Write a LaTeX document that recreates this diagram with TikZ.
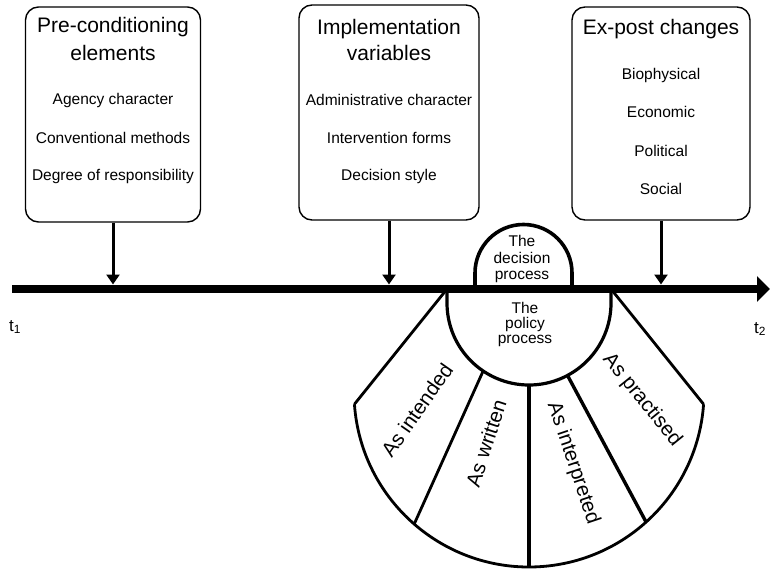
\documentclass[tikz,border=0pt]{standalone}
\usepackage{fontspec}
\setmainfont{Liberation Sans}
\usetikzlibrary{arrows.meta,calc}
\begin{document}
\begin{tikzpicture}[x=1pt,y=1pt,
  box/.style={draw, line width=1.4pt, rounded corners=13pt, inner sep=0pt},
  title/.style={font=\fontsize{21}{21}\selectfont, inner sep=0pt, anchor=base},
  item/.style={font=\fontsize{15.5}{16}\selectfont, inner sep=0pt, anchor=base},
  stage/.style={font=\fontsize{20.5}{21}\selectfont, inner sep=0pt},
  feed/.style={line width=3pt, -{Triangle[length=10pt,width=13pt]}},
  rim/.style={line width=2.8pt},
]
\useasboundingbox (0,0) rectangle (770,571);

% reference points
\coordinate (t1) at (12,282);
\coordinate (t2) at (770,282);
\coordinate (axtop) at (0,286.5);
\coordinate (pc) at (529,268);   % centre of the policy-process circle
\coordinate (fc) at (529,179);   % centre of the outer fan arc

% the fan of policy stages
\draw[rim] ($(fc)+(184:175)$) coordinate (fl) arc[start angle=184,end angle=356,radius=175] coordinate (fr);
\draw[rim] (fl) -- (447,282);
\draw[rim] (fr) -- (611,282);
\draw[rim] ($(pc)+(236:82)$) -- ($(fc)+(229:175)$);
\draw[line width=3.8pt] ($(pc)+(270:82)$) -- ($(fc)+(270:175)$);
\draw[line width=3.4pt] ($(pc)+(298:82)$) -- ($(fc)+(312:175)$);

% policy process circle
\draw[line width=3.2pt] (447,282) -- (447,268) arc[start angle=180,end angle=360,radius=82] -- (611,282);

% decision process dome
\draw[line width=3.6pt] (475,286) -- (475,298) arc[start angle=180,end angle=0,radius=48.5] -- (572,298) -- (572,286);

% time axis
\draw[line width=8.5pt, -{Triangle[length=13pt,width=25pt]}] (t1) -- (t2);
\node[font=\fontsize{17}{17}\selectfont, inner sep=0pt, anchor=base west] (lt1) at (9,240) {t\textsubscript{1}};
\node[font=\fontsize{17}{17}\selectfont, inner sep=0pt, anchor=base west] (lt2) at (754,238) {t\textsubscript{2}};

% boxes
\node[box, minimum width=175pt, minimum height=215pt] (pre) at (113,456.5) {};
\node[box, minimum width=180pt, minimum height=215pt] (impl) at (389,458.5) {};
\node[box, minimum width=178pt, minimum height=213pt] (expost) at (661,457.5) {};

\draw[feed] (pre.south) -- (pre.south |- axtop);
\draw[feed] (impl.south) -- (impl.south |- axtop);
\draw[feed] (expost.south) -- (expost.south |- axtop);

% box texts
\node[title] (pre1) at (113,538.4) {Pre-conditioning};
\node[title] (pre2) at (113,510.4) {elements};
\node[item] (pre3) at (113,466.4) {Agency character};
\node[item] (pre4) at (113,427.4) {Conventional methods};
\node[item] (pre5) at (113,390.4) {Degree of responsibility};

\node[title] (impl1) at (389,536.4) {Implementation};
\node[title] (impl2) at (389,510.4) {variables};
\node[item] (impl3) at (389,465.4) {Administrative character};
\node[item] (impl4) at (389,427.4) {Intervention forms};
\node[item] (impl5) at (389,390.4) {Decision style};

\node[title] (ex1) at (661,536.4) {Ex-post changes};
\node[item] (ex2) at (661,491.4) {Biophysical};
\node[item] (ex3) at (661,453.4) {Economic};
\node[item] (ex4) at (661,414.4) {Political};
\node[item] (ex5) at (661,376.4) {Social};

% process labels
\node[item] (dp1) at (522,324) {The};
\node[item] (dp2) at (522,307.5) {decision};
\node[item] (dp3) at (522,291.5) {process};
\node[item] (pp1) at (525,258) {The};
\node[item] (pp2) at (525,243) {policy};
\node[item] (pp3) at (525,228) {process};

% stage labels
\node[stage, rotate=55] (s1) at (417,161) {As intended};
\node[stage, rotate=72] (s2) at (486,128) {As written};
\node[stage, rotate=-71.5] (s3) at (573,108) {As interpreted};
\node[stage, rotate=-51] (s4) at (642,171) {As practised};
\end{tikzpicture}
\end{document}
